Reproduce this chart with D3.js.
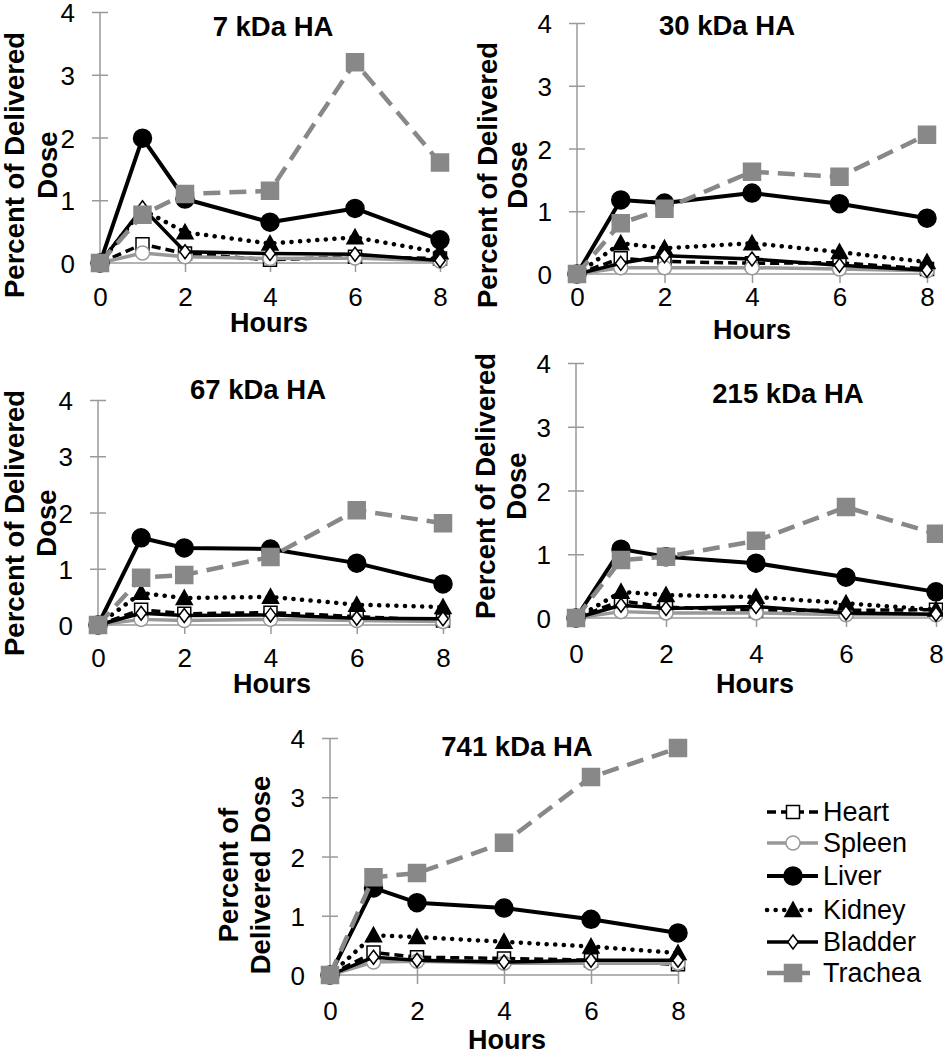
<!DOCTYPE html>
<html><head><meta charset="utf-8">
<script src="https://cdn.jsdelivr.net/npm/d3@7"></script>
<style>body{margin:0;background:#fff}svg{display:block;font-family:"Liberation Sans",Arial,sans-serif}</style>
</head><body>
<svg id="c" width="943" height="1050"></svg>
<script>
const hours = [0, 1, 2, 4, 6, 8];
const organs = ["Heart", "Spleen", "Liver", "Kidney", "Bladder", "Trachea"];
const panelTitles = ["7 kDa HA", "30 kDa HA", "67 kDa HA", "215 kDa HA", "741 kDa HA"];
const xTicks = [0, 2, 4, 6, 8];
const yTicks = [0, 1, 2, 3, 4];

// values per organ, one array per panel (order of hours)
const heart   = [[0,0.30,0.15,0.05,0.10,0.07],[0,0.25,0.20,0.17,0.18,0.08],[0,0.27,0.20,0.22,0.15,0.08],[0,0.27,0.17,0.12,0.12,0.13],[0,0.38,0.30,0.28,0.25,0.18]];
const spleen  = [[0,0.16,0.10,0.07,0.08,0.03],[0,0.10,0.10,0.10,0.08,0.05],[0,0.10,0.08,0.10,0.08,0.06],[0,0.10,0.08,0.08,0.05,0.05],[0,0.22,0.23,0.20,0.20,0.20]];
const liver   = [[0,1.99,1.02,0.65,0.87,0.37],[0,1.18,1.13,1.29,1.12,0.89],[0,1.55,1.37,1.35,1.10,0.73],[0,1.08,0.96,0.86,0.64,0.41],[0,1.47,1.22,1.13,0.94,0.71]];
const kidney  = [[0,0.85,0.49,0.31,0.41,0.17],[0,0.49,0.41,0.49,0.35,0.19],[0,0.57,0.48,0.50,0.36,0.32],[0,0.41,0.36,0.33,0.23,0.13],[0,0.67,0.64,0.56,0.48,0.37]];
const bladder = [[0,0.88,0.18,0.15,0.14,0.04],[0,0.17,0.29,0.24,0.14,0.06],[0,0.21,0.17,0.18,0.12,0.11],[0,0.20,0.15,0.18,0.08,0.06],[0,0.30,0.25,0.22,0.25,0.25]];
const trachea = [[0,0.77,1.10,1.15,3.20,1.60],[0,0.81,1.04,1.63,1.55,2.22],[0,0.84,0.89,1.21,2.04,1.81],[0,0.91,0.96,1.21,1.74,1.32],[0,1.65,1.72,2.23,3.34,3.83]];
const seriesValues = [heart, spleen, liver, kidney, bladder, trachea];

// styles
const styles = {
  Heart:   {stroke:"#000", width:3.5, dash:"9,5",   cap:"butt",  marker:"square",   size:13, fill:"#fff", mstroke:"#000"},
  Spleen:  {stroke:"#999", width:3.5, dash:null,    cap:"butt",  marker:"circle",   size:14, fill:"#fff", mstroke:"#999"},
  Liver:   {stroke:"#000", width:4,   dash:null,    cap:"butt",  marker:"circle",   size:18, fill:"#000", mstroke:"#000"},
  Kidney:  {stroke:"#000", width:4.5, dash:"0.1,8.5", cap:"round", marker:"triangle", size:16, fill:"#000", mstroke:"#000"},
  Bladder: {stroke:"#000", width:3.5, dash:null,    cap:"butt",  marker:"diamond",  size:14, fill:"#fff", mstroke:"#000"},
  Trachea: {stroke:"#888", width:4.5, dash:"17,9",  cap:"butt",  marker:"square",   size:17, fill:"#888", mstroke:"#888"}
};

// panel layout (pixels)
const layout = [
  {x0:100, x8:440, yTop:12,  yBot:263, tx:273, ty:36,  tickB:306,  hx:269, hy:332,  ylx:[14,47],   yly:165, ylab:["Percent of Delivered","Dose"]},
  {x0:577, x8:927, yTop:23,  yBot:274, tx:727, ty:35,  tickB:306,  hx:752, hy:339,  ylx:[487,517], yly:175, ylab:["Percent of Delivered","Dose"]},
  {x0:98,  x8:443, yTop:400, yBot:625, tx:258, ty:399, tickB:667,  hx:272, hy:693,  ylx:[14,46],   yly:523, ylab:["Percent of Delivered","Dose"]},
  {x0:576, x8:936, yTop:363, yBot:618, tx:788, ty:403, tickB:663,  hx:755, hy:693,  ylx:[485,516], yly:486, ylab:["Percent of Delivered","Dose"]},
  {x0:330, x8:678, yTop:738, yBot:975, tx:517, ty:756, tickB:1020, hx:507, hy:1049, ylx:[228,260], yly:875, ylab:["Percent of","Delivered Dose"]}
];

const svg = d3.select("#c");
const axisColor = "#9a9a9a";

function markerPath(type, s){
  if(type==="square"){const h=s/2;return `M${-h},${-h}H${h}V${h}H${-h}Z`;}
  if(type==="diamond"){const h=s/2;return `M0,${-h}L${h*0.75},0L0,${h}L${-h*0.75},0Z`;}
  if(type==="triangle"){const h=s/2;return `M0,${-h}L${h},${h*0.8}L${-h},${h*0.8}Z`;}
  return null;
}
function drawMarker(g, st, x, y){
  if(st.marker==="circle"){
    g.append("circle").attr("cx",x).attr("cy",y).attr("r",st.size/2)
      .attr("fill",st.fill).attr("stroke",st.mstroke).attr("stroke-width",1.5);
  } else {
    g.append("path").attr("d",markerPath(st.marker,st.size)).attr("transform",`translate(${x},${y})`)
      .attr("fill",st.fill).attr("stroke",st.mstroke).attr("stroke-width",1.5);
  }
}

layout.forEach((L, p) => {
  const x = d3.scaleLinear().domain([0,8]).range([L.x0, L.x8]);
  const y = d3.scaleLinear().domain([0,4]).range([L.yBot, L.yTop]);
  const g = svg.append("g");

  // y axis
  const ya = g.append("g").attr("transform",`translate(${L.x0},0)`)
    .call(d3.axisLeft(y).tickValues(yTicks).tickSize(8).tickFormat(d3.format("d")));
  ya.select(".domain").attr("stroke",axisColor).attr("stroke-width",1.5).attr("d",`M0,${L.yBot}V${L.yTop}`);
  ya.selectAll(".tick line").attr("stroke",axisColor).attr("stroke-width",1.5).attr("x1",-8).attr("x2",8);
  ya.selectAll(".tick text").attr("x",-25).attr("font-size",26).attr("fill","#000")
    .attr("font-family","'Liberation Sans',Arial,sans-serif").attr("dy","0.37em");

  // x axis
  const xa = g.append("g").attr("transform",`translate(0,${L.yBot})`)
    .call(d3.axisBottom(x).tickValues(xTicks).tickFormat(d3.format("d")));
  xa.select(".domain").attr("stroke",axisColor).attr("stroke-width",1.5).attr("d",`M${L.x0},0H${L.x8}`);
  xa.selectAll(".tick line").attr("stroke",axisColor).attr("stroke-width",1.5).attr("y1",-8).attr("y2",9);
  xa.selectAll(".tick text").attr("y",L.tickB-L.yBot).attr("dy",0).attr("font-size",26).attr("fill","#000")
    .attr("font-family","'Liberation Sans',Arial,sans-serif");

  // title
  g.append("text").attr("x",L.tx).attr("y",L.ty).attr("text-anchor","middle")
    .attr("font-size",27.5).attr("font-weight","bold").text(panelTitles[p]);
  // x label
  g.append("text").attr("x",L.hx).attr("y",L.hy).attr("text-anchor","middle")
    .attr("font-size",27).attr("font-weight","bold").text("Hours");
  // y label
  L.ylab.forEach((t,i)=>{
    g.append("text").attr("transform",`translate(${L.ylx[i]},${L.yly}) rotate(-90)`)
      .attr("text-anchor","middle").attr("dominant-baseline","central")
      .attr("font-size",27.5).attr("font-weight","bold").text(t);
  });

  // series
  organs.forEach((o, k) => {
    const st = styles[o];
    const vals = seriesValues[k][p];
    const pts = hours.map((h,i)=>[h, vals[i]]);
    const line = d3.line().x(d=>x(d[0])).y(d=>y(d[1]));
    const sg = g.append("g");
    sg.append("path").attr("d",line(pts)).attr("fill","none").attr("stroke",st.stroke)
      .attr("stroke-width",st.width).attr("stroke-dasharray",st.dash).attr("stroke-linecap",st.cap)
      .attr("stroke-linejoin","round");
    pts.forEach(d=>drawMarker(sg, st, x(d[0]), y(d[1])));
  });
});

// legend
const legendY = [812, 843, 876, 910, 942, 973];
const lg = svg.append("g");
organs.forEach((o,k)=>{
  const st = styles[o];
  const yy = legendY[k];
  lg.append("line").attr("x1",767).attr("x2",818).attr("y1",yy).attr("y2",yy)
    .attr("stroke",st.stroke).attr("stroke-width",st.width).attr("stroke-dasharray",st.dash)
    .attr("stroke-linecap",st.cap);
  drawMarker(lg, st, 793, yy);
  lg.append("text").attr("x",823).attr("y",yy).attr("dominant-baseline","central")
    .attr("font-size",27).text(o);
});
</script>
</body></html>
